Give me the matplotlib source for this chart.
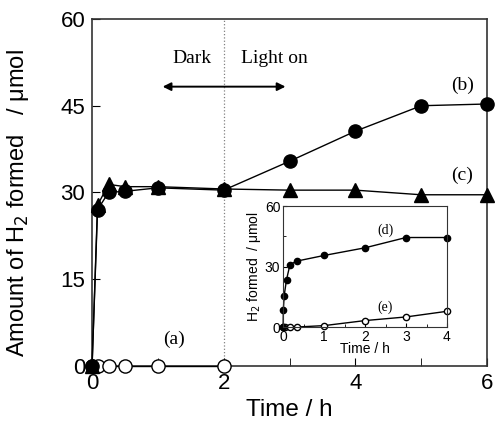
import matplotlib
matplotlib.use("Agg")
import matplotlib.pyplot as plt
from matplotlib.ticker import MultipleLocator

# main plot data
t_a = [0, 0.083, 0.25, 0.5, 1, 2]
h2_a = [0, 0, 0, 0, 0, 0]

t_b = [0, 0.083, 0.25, 0.5, 1, 2, 3, 4, 5, 6]
h2_b = [0, 27.0, 30.0, 30.2, 30.8, 30.4, 35.4, 40.6, 45.0, 45.3]

t_c = [0, 0.083, 0.25, 0.5, 1, 2, 3, 4, 5, 6]
h2_c = [0, 27.8, 31.4, 31.0, 31.0, 30.6, 30.4, 30.4, 29.6, 29.6]

# inset data
t_d = [0, 0.005, 0.025, 0.083, 0.167, 0.333, 1, 2, 3, 4]
h2_d = [0, 8.6, 15.6, 23.5, 31.0, 32.7, 35.5, 39.3, 44.4, 44.4]

t_e = [0, 0.05, 0.167, 0.333, 1, 2, 3, 4]
h2_e = [0, 0, 0, 0, 0.7, 3.2, 5.0, 7.8]

sans = "Liberation Sans"
serif = "Liberation Serif"

fig = plt.figure(figsize=(4.95, 4.32), dpi=100)
ax = fig.add_axes([0.186, 0.153, 0.798, 0.803])

ax.plot(t_a, h2_a, "-o", color="black", mfc="white", mec="black", ms=9.5, lw=1,
        zorder=3, clip_on=False)
ax.plot(t_c, h2_c, "-^", color="black", ms=10, lw=1, zorder=4, clip_on=False)
ax.plot(t_b, h2_b, "-o", color="black", ms=9.5, lw=1, zorder=5, clip_on=False)

ax.axvline(2, color="gray", ls=":", lw=0.9, zorder=1)

ax.annotate("", xy=(1.03, 48.3), xytext=(2.98, 48.3),
            arrowprops=dict(arrowstyle="<|-|>", color="black", lw=1.4, mutation_scale=12))
ax.text(1.52, 53.2, "Dark", family=serif, fontsize=14, ha="center", va="center")
ax.text(2.77, 53.2, "Light on", family=serif, fontsize=14, ha="center", va="center")
ax.text(5.62, 48.6, "(b)", family=serif, fontsize=14, ha="center", va="center")
ax.text(5.62, 33.0, "(c)", family=serif, fontsize=14, ha="center", va="center")
ax.text(1.25, 4.6, "(a)", family=serif, fontsize=14, ha="center", va="center")

ax.set_xlim(0, 6)
ax.set_ylim(0, 60)
ax.set_xticks([0, 2, 4, 6])
ax.xaxis.set_minor_locator(MultipleLocator(1))
ax.set_yticks([0, 15, 30, 45, 60])
ax.tick_params(direction="in", length=6, labelsize=16, pad=5)
ax.tick_params(which="minor", direction="in", length=6)
for lab in ax.get_xticklabels() + ax.get_yticklabels():
    lab.set_family(sans)
for s in ax.spines.values():
    s.set_linewidth(1.2)
    s.set_color("#333333")
ax.set_xlabel("Time / h", family=sans, fontsize=17.5, labelpad=4)
ax.set_ylabel("Amount of H$_2$ formed   / μmol", family=sans, fontsize=17)
ax.yaxis.set_label_coords(-0.155, 0.47)

# inset
ins = fig.add_axes([0.572, 0.243, 0.331, 0.280])
ins.plot(t_e, h2_e, "-o", color="black", mfc="white", mec="black", ms=4.5, lw=1, clip_on=False)
ins.plot(t_d, h2_d, "-o", color="black", ms=4.5, lw=1, clip_on=False)
ins.text(2.5, 48, "(d)", family=serif, fontsize=10, ha="center", va="center")
ins.text(2.5, 10, "(e)", family=serif, fontsize=10, ha="center", va="center")
ins.set_xlim(0, 4)
ins.set_ylim(0, 60)
ins.set_xticks([0, 1, 2, 3, 4])
ins.set_yticks([0, 30, 60])
ins.xaxis.set_minor_locator(MultipleLocator(0.5))
ins.yaxis.set_minor_locator(MultipleLocator(15))
ins.tick_params(direction="in", length=3, labelsize=10, pad=2)
ins.tick_params(which="minor", direction="in", length=2)
for lab in ins.get_xticklabels() + ins.get_yticklabels():
    lab.set_family(sans)
for s in ins.spines.values():
    s.set_color("#333333")
ins.set_xlabel("Time / h", family=sans, fontsize=10, labelpad=-1)
ins.set_ylabel("H$_2$ formed  / μmol", family=sans, fontsize=10, labelpad=1)

fig.savefig("out.png", dpi=100)
